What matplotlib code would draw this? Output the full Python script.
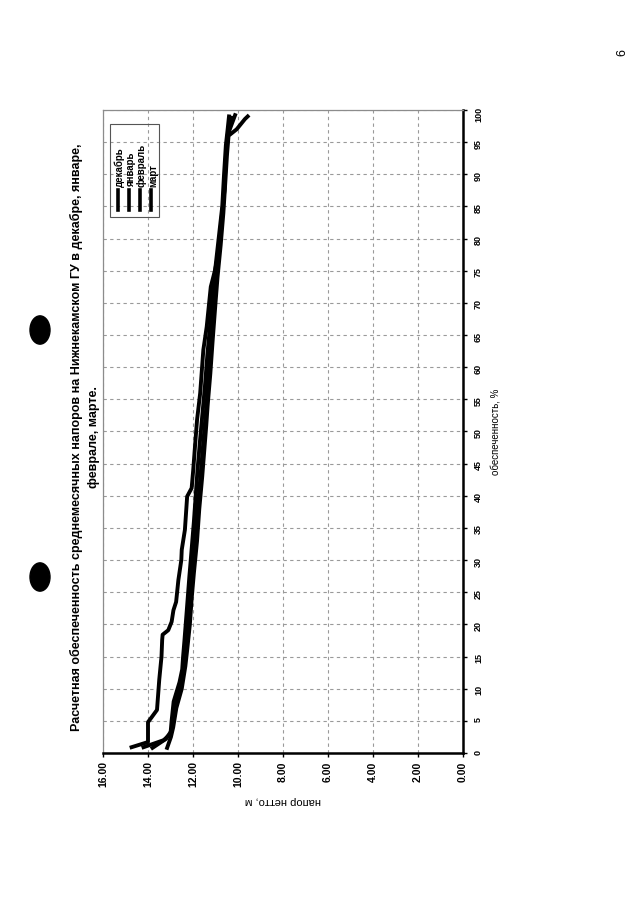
import numpy as np
import matplotlib
matplotlib.use('Agg')
import matplotlib.pyplot as plt
from matplotlib.patches import Rectangle, Circle
from matplotlib.lines import Line2D

plt.rcParams['font.family'] = ['Liberation Sans', 'DejaVu Sans']
plt.rcParams['font.weight'] = 'bold'

# page is scanned rotated: screen x = head (m), screen y = probability (%)
months = ['декабрь', 'январь', 'февраль', 'март']

pct_dec = [0.9, 1.7, 4.8, 5.5, 6.7, 11.4, 15.0, 17.6, 18.4, 19.1, 20.4, 22.2, 23.5, 26.9, 30.0,
           31.6, 34.7, 39.9, 41.2, 44.0, 48.2, 51.8, 56.0, 62.7, 66.3, 72.5, 75.1, 77.2, 82.4,
           87.6, 92.0, 96.0, 98.8]
head_dec = [14.73, 14.0, 14.0, 13.85, 13.6, 13.5, 13.4, 13.37, 13.35, 13.1, 12.95, 12.87, 12.75,
            12.65, 12.52, 12.5, 12.36, 12.26, 12.06, 11.99, 11.9, 11.82, 11.68, 11.54, 11.39,
            11.21, 11.02, 10.9, 10.75, 10.6, 10.55, 10.45, 10.3]

pct_jan = [0.9, 2.0, 3.0, 5.0, 8.0, 11.0, 13.0, 15.0, 17.5, 22.0, 27.5, 30.0, 36.0, 44.0, 48.5,
           52.0, 57.0, 62.0, 68.0, 75.0, 80.0, 85.0, 90.0, 94.5, 97.0, 99.0]
head_jan = [14.2, 13.3, 13.0, 12.95, 12.86, 12.6, 12.48, 12.44, 12.38, 12.28, 12.16, 12.1, 11.96,
            11.8, 11.69, 11.6, 11.47, 11.36, 11.2, 11.02, 10.86, 10.7, 10.62, 10.54, 10.46, 10.4]

pct_feb = [0.8, 2.2, 3.5, 6.0, 9.0, 12.0, 14.5, 18.0, 21.0, 26.0, 31.0, 35.0, 40.0, 45.0, 50.0,
           55.0, 60.0, 66.0, 72.0, 77.0, 82.0, 87.0, 92.0, 96.0, 99.2]
head_feb = [13.8, 13.2, 12.95, 12.82, 12.68, 12.47, 12.36, 12.26, 12.18, 12.06, 11.95, 11.85,
            11.74, 11.62, 11.5, 11.38, 11.27, 11.14, 11.0, 10.88, 10.74, 10.62, 10.55, 10.47, 10.13]

pct_mar = [0.8, 2.5, 4.0, 7.0, 10.0, 13.5, 16.0, 20.0, 24.0, 28.0, 33.0, 38.0, 43.0, 47.0, 51.0,
           54.0, 59.0, 64.0, 70.0, 74.0, 79.0, 84.0, 89.0, 93.0, 96.0, 97.0, 98.6, 99.0]
head_mar = [13.15, 12.98, 12.88, 12.74, 12.5, 12.34, 12.26, 12.14, 12.06, 11.96, 11.82, 11.72,
            11.59, 11.5, 11.41, 11.35, 11.23, 11.13, 11.0, 10.91, 10.77, 10.65, 10.56, 10.49,
            10.42, 10.06, 9.69, 9.57]

head_ticks = [0, 2, 4, 6, 8, 10, 12, 14, 16]
pct_ticks = list(range(0, 101, 5))

title = ('Расчетная обеспеченность среднемесячных напоров на Нижнекамском ГУ в декабре, январе,\n'
         'феврале, марте.')

W, H = 640, 905
fig = plt.figure(figsize=(W / 100, H / 100), dpi=100)
ax = fig.add_axes([103 / W, 1 - 753 / H, 360 / W, 643 / H])

series = [(pct_dec, head_dec), (pct_jan, head_jan), (pct_feb, head_feb), (pct_mar, head_mar)]
for (p, h), name in zip(series, months):
    ax.plot(h, p, color='black', linewidth=2.8, solid_joinstyle='round', label=name)

ax.set_xlim(16, 0)
ax.set_ylim(0, 100)
ax.set_xticks(head_ticks)
ax.xaxis.set_major_formatter('{x:.2f}')
ax.set_yticks(pct_ticks)
ax.yaxis.tick_right()
ax.yaxis.set_label_position('right')
ax.tick_params(axis='x', labelrotation=90, labelsize=7.5, length=3, width=1, pad=3)
ax.tick_params(axis='y', labelrotation=90, labelsize=6.5, length=3, width=1, pad=5)
ax.grid(True, color='#9a9a9a', linestyle=(0, (3, 3)), linewidth=0.8)

for s in ['right', 'bottom']:
    ax.spines[s].set_linewidth(1.8)
    ax.spines[s].set_color('black')
for s in ['top', 'left']:
    ax.spines[s].set_linewidth(0.9)
    ax.spines[s].set_color('#8c8c8c')

ax.set_ylabel('обеспеченность, %', fontsize=7, rotation=90, labelpad=5)
ax.set_xlabel('напор нетто, м', fontsize=8, rotation=180, labelpad=6)

fig.text(85 / W, 1 - 437 / H, title, rotation=90, ha='center', va='center',
         fontsize=9, linespacing=1.6, multialignment='center')

# legend, rotated like the page
fx = lambda x: x / W
fy = lambda y: 1 - y / H
fig.add_artist(Rectangle((fx(110), fy(217)), fx(159) - fx(110), fy(124) - fy(217),
                         transform=fig.transFigure, fill=False, edgecolor='#555555', linewidth=0.8))
for i, name in enumerate(months):
    xx = 118 + i * 11
    fig.add_artist(Line2D([fx(xx), fx(xx)], [fy(210), fy(190)], transform=fig.transFigure,
                          color='black', linewidth=2.6))
    fig.text(fx(xx + 2), fy(187), name, rotation=90, ha='center', va='bottom', fontsize=7)

# page number and punch holes
fig.text(fx(622), fy(52), '6', rotation=90, ha='center', va='center', fontsize=9, weight='normal')
for yy in [330, 577]:
    fig.add_artist(Circle((fx(40), fy(yy)), 10 / W, transform=fig.transFigure, color='black'))

fig.savefig('out.png', dpi=100)
